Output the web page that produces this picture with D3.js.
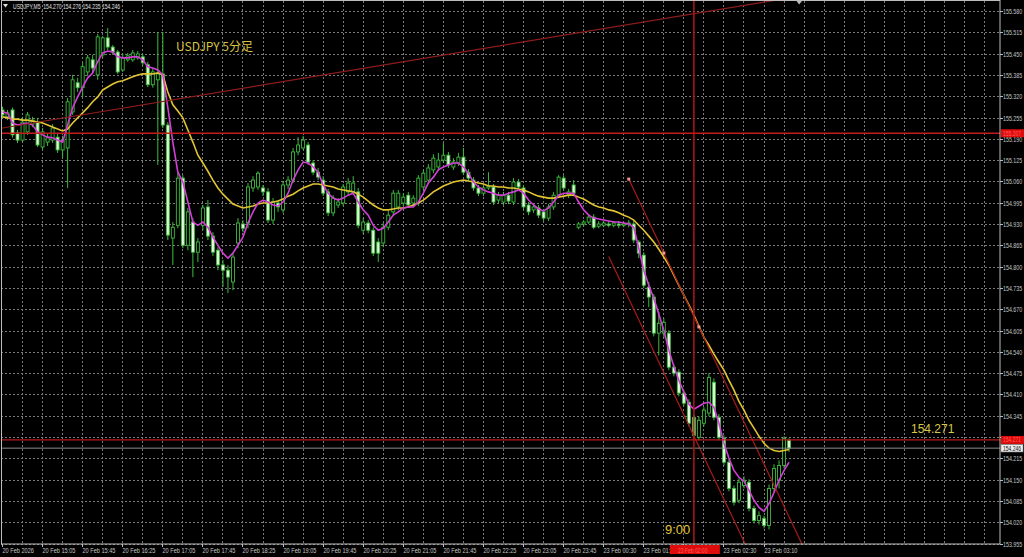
<!DOCTYPE html>
<html><head><meta charset="utf-8">
<script src="https://cdn.jsdelivr.net/npm/d3@7"></script>
<style>html,body{margin:0;padding:0;background:#000;overflow:hidden}</style>
</head><body>
<svg id="c" width="1024" height="557"></svg>
<script>
// ---------- DATA ----------
const symbolInfo = "USDJPY,M5  154.270 154.276 154.235 154.246";
const chartTitle = "USDJPY 5分足";
const timeTickBars = [0,8,16,24,32,40,48,56,64,72,80,88,96,104,112,120,128,136,144,152];
const timeTickLabels = ["20 Feb 2026","20 Feb 15:05","20 Feb 15:45","20 Feb 16:25","20 Feb 17:05","20 Feb 17:45","20 Feb 18:25","20 Feb 19:05","20 Feb 19:45","20 Feb 20:25","20 Feb 21:05","20 Feb 21:45","20 Feb 22:25","20 Feb 23:05","20 Feb 23:45","23 Feb 00:30","23 Feb 01:10","23 Feb 01:50","23 Feb 02:30","23 Feb 03:10"];
const priceTicks = [155.580,155.515,155.450,155.385,155.320,155.255,155.190,155.125,155.060,154.995,154.930,154.865,154.800,154.735,154.670,154.605,154.540,154.475,154.410,154.345,154.280,154.215,154.150,154.085,154.020,153.955];

const opens = [
155.278,155.257,155.278,155.208,155.186,155.211,155.235,155.241,155.165,155.180,
155.186,155.195,155.156,155.162,155.272,155.361,155.346,155.394,155.431,155.385,
155.446,155.498,155.470,155.455,155.400,155.431,155.431,155.437,155.440,155.416,
155.355,155.370,155.388,155.232,154.887,154.926,155.070,154.865,154.936,154.844,
154.926,154.982,154.893,154.850,154.805,154.789,154.753,154.872,154.930,154.933,
155.040,155.043,155.040,155.028,154.942,154.994,154.973,155.049,155.064,155.150,
155.162,155.171,155.116,155.088,155.064,155.028,154.964,154.988,154.994,155.028,
155.028,155.028,154.911,154.933,154.911,154.875,154.872,154.920,154.967,154.982,
154.994,155.018,154.994,154.994,155.043,155.064,155.095,155.104,155.125,155.140,
155.104,155.116,155.134,155.088,155.064,155.040,155.024,155.040,155.043,155.003,
154.997,155.018,154.997,155.058,155.040,154.988,154.973,154.979,154.967,154.948,
154.982,155.018,155.070,155.018,155.049,154.920,154.930,154.936,154.951,154.923,
154.926,154.930,154.926,154.930,154.926,154.930,154.930,154.875,154.835,154.737,
154.707,154.597,154.597,154.597,154.493,154.478,154.414,154.386,154.340,154.279,
154.322,154.353,154.447,154.340,154.276,154.203,154.123,154.087,154.132,154.142,
154.062,154.025,154.031,154.010,154.123,154.148,154.193,154.270];
const highs = [
155.288,155.278,155.285,155.217,155.257,155.272,155.257,155.254,155.223,155.205,
155.235,155.208,155.199,155.315,155.385,155.376,155.422,155.446,155.446,155.510,
155.504,155.528,155.476,155.461,155.449,155.452,155.461,155.458,155.449,155.425,
155.406,155.516,155.516,155.241,154.936,155.088,155.079,154.979,154.948,154.887,
154.988,155.003,154.905,154.859,154.820,154.805,154.841,154.948,154.942,155.055,
155.076,155.091,155.049,155.040,155.009,155.003,155.061,155.076,155.162,155.195,
155.199,155.180,155.125,155.101,155.076,155.037,155.018,155.009,155.052,155.070,
155.076,155.040,154.948,154.942,154.920,154.887,154.933,154.970,155.034,155.034,
155.024,155.028,155.018,155.079,155.095,155.113,155.143,155.147,155.177,155.150,
155.131,155.147,155.162,155.098,155.073,155.049,155.049,155.088,155.052,155.028,
155.028,155.028,155.070,155.067,155.049,154.997,154.991,154.988,154.976,154.991,
155.028,155.079,155.079,155.037,155.064,154.936,154.942,154.960,154.960,154.939,
154.939,154.939,154.939,154.939,154.936,154.942,154.942,154.881,154.844,154.753,
154.716,154.661,154.642,154.606,154.502,154.487,154.423,154.395,154.350,154.343,
154.371,154.475,154.459,154.350,154.285,154.212,154.132,154.154,154.160,154.151,
154.071,154.053,154.040,154.135,154.197,154.209,154.282,154.276];
const lows = [
155.254,155.247,155.193,155.177,155.180,155.202,155.226,155.165,155.156,155.168,
155.177,155.147,155.131,155.040,155.263,155.333,155.318,155.382,155.391,155.370,
155.437,155.461,155.446,155.388,155.394,155.425,155.425,155.431,155.413,155.348,
155.346,155.110,155.223,154.881,154.805,154.917,154.856,154.850,154.768,154.814,
154.911,154.881,154.832,154.789,154.738,154.719,154.728,154.856,154.905,154.917,
155.028,155.034,155.015,154.933,154.930,154.967,154.964,155.037,155.055,155.140,
155.156,155.110,155.079,155.064,155.015,154.954,154.954,154.979,154.985,155.018,
155.018,154.917,154.899,154.902,154.832,154.814,154.859,154.911,154.957,154.973,
154.985,154.979,154.985,154.985,155.034,155.055,155.085,155.095,155.116,155.101,
155.095,155.107,155.079,155.061,155.031,155.015,155.015,155.034,154.988,154.994,
154.988,154.991,154.988,155.034,154.973,154.957,154.964,154.948,154.939,154.939,
154.973,155.009,155.031,155.009,155.015,154.914,154.923,154.930,154.914,154.917,
154.920,154.920,154.920,154.917,154.920,154.920,154.872,154.826,154.734,154.676,
154.587,154.529,154.581,154.484,154.465,154.404,154.374,154.313,154.276,154.270,
154.313,154.343,154.331,154.270,154.193,154.114,154.071,154.078,154.123,154.053,
154.016,154.013,154.001,153.998,154.114,154.123,154.184,154.235];
const closes = [
155.263,155.269,155.202,155.186,155.241,155.263,155.247,155.171,155.211,155.193,
155.223,155.156,155.186,155.303,155.370,155.346,155.410,155.437,155.406,155.501,
155.498,155.470,155.455,155.394,155.437,155.443,155.452,155.449,155.422,155.355,
155.394,155.388,155.232,154.896,154.920,155.070,154.865,154.967,154.844,154.875,
154.979,154.893,154.844,154.805,154.789,154.768,154.829,154.933,154.917,155.043,
155.064,155.085,155.028,154.942,154.997,154.982,155.049,155.064,155.150,155.171,
155.186,155.119,155.088,155.073,155.024,154.964,155.009,154.997,155.043,155.055,
155.055,154.926,154.936,154.911,154.841,154.841,154.920,154.957,155.024,155.024,
155.012,154.988,155.009,155.070,155.085,155.101,155.131,155.125,155.140,155.110,
155.119,155.134,155.088,155.070,155.040,155.024,155.040,155.046,154.997,155.018,
155.018,155.000,155.058,155.043,154.982,154.967,154.982,154.957,154.948,154.982,
155.018,155.073,155.040,155.028,155.024,154.930,154.936,154.951,154.920,154.930,
154.933,154.926,154.933,154.926,154.930,154.933,154.881,154.841,154.743,154.707,
154.597,154.627,154.630,154.493,154.475,154.414,154.383,154.322,154.285,154.331,
154.362,154.462,154.340,154.279,154.203,154.123,154.081,154.142,154.148,154.062,
154.025,154.040,154.010,154.123,154.184,154.193,154.276,154.246];
// fast moving average (magenta)
const maFast = [
155.272,155.269,155.238,155.232,155.235,155.238,155.232,155.211,155.202,155.195,
155.193,155.186,155.180,155.232,155.285,155.318,155.348,155.376,155.391,155.425,
155.452,155.458,155.455,155.440,155.437,155.437,155.440,155.440,155.431,155.410,
155.406,155.400,155.385,155.285,155.180,155.088,155.058,154.997,154.936,154.926,
154.936,154.920,154.890,154.865,154.841,154.826,154.841,154.865,154.890,154.933,
154.967,154.994,155.003,154.997,154.988,154.985,154.997,155.024,155.064,155.095,
155.119,155.116,155.104,155.088,155.049,155.024,155.009,155.003,155.009,155.018,
155.024,154.997,154.973,154.957,154.926,154.911,154.917,154.936,154.957,154.967,
154.979,154.982,154.982,154.997,155.024,155.055,155.073,155.095,155.104,155.110,
155.116,155.116,155.104,155.085,155.058,155.043,155.034,155.028,155.024,155.018,
155.018,155.024,155.028,155.034,155.024,155.003,154.988,154.976,154.970,154.979,
154.997,155.018,155.024,155.024,155.024,154.997,154.973,154.957,154.948,154.945,
154.942,154.939,154.936,154.936,154.933,154.930,154.920,154.856,154.789,154.743,
154.703,154.655,154.606,154.545,154.496,154.453,154.417,154.380,154.365,154.374,
154.383,154.386,154.371,154.322,154.261,154.215,154.178,154.157,154.145,154.117,
154.087,154.065,154.053,154.077,154.111,154.148,154.178,154.203];
// slow moving average (yellow)
const maSlow = [
155.257,155.254,155.250,155.250,155.247,155.247,155.244,155.241,155.238,155.232,
155.226,155.220,155.214,155.220,155.238,155.254,155.269,155.285,155.303,155.318,
155.339,155.348,155.357,155.364,155.367,155.373,155.379,155.385,155.388,155.388,
155.388,155.391,155.385,155.333,155.294,155.275,155.254,155.217,155.180,155.140,
155.116,155.091,155.064,155.040,155.021,155.006,154.991,154.985,154.979,154.982,
154.985,154.991,154.994,154.994,154.997,155.000,155.006,155.015,155.021,155.031,
155.040,155.046,155.052,155.052,155.049,155.046,155.043,155.037,155.034,155.031,
155.028,155.021,155.012,155.000,154.988,154.979,154.973,154.973,154.976,154.979,
154.979,154.982,154.988,154.994,155.003,155.015,155.028,155.037,155.046,155.052,
155.058,155.061,155.064,155.061,155.058,155.055,155.052,155.046,155.046,155.043,
155.043,155.040,155.040,155.037,155.034,155.028,155.021,155.015,155.012,155.009,
155.009,155.012,155.015,155.018,155.018,155.012,155.006,154.997,154.988,154.982,
154.979,154.973,154.970,154.964,154.957,154.951,154.942,154.926,154.911,154.893,
154.875,154.853,154.829,154.805,154.774,154.743,154.713,154.683,154.652,154.618,
154.584,154.560,154.533,154.508,154.484,154.453,154.423,154.389,154.362,154.331,
154.307,154.282,154.261,154.246,154.239,154.236,154.239,154.242];

// drawn objects (data coordinates: bar index, price)
const hLinePrices = [155.207, 154.271];
const hLineLabels = ["155.207", "154.271"];
const bidPrice = 154.246;
const vLineBar = 138;
const vLineLabel = "23 Feb 02:00";
const trendBars = [0, 150];
const trendPrices = [155.223, 155.602];
const chanUpperBars = [125, 139];
const chanUpperPrices = [155.067, 154.616];
const chanLowerBars = [121, 135];
const chanLowerPrices = [154.831, 154.380];
const noteLevel = "154.271";
const noteTime = "9:00";

// ---------- DRAW ----------
const W = 1024, H = 557;
const P = {l: 1, r: 1000, t: 1, b: 544};
const svg = d3.select("#c");
svg.append("rect").attr("width", W).attr("height", H).attr("fill", "#000");

const x = d3.scaleLinear().domain([0, 1]).range([2.5, 7.51]);
const y = d3.scaleLinear().domain([153.955, 155.580]).range([543.5, 11]);

const defs = svg.append("defs");
defs.append("clipPath").attr("id", "plot").append("rect")
  .attr("x", P.l).attr("y", P.t).attr("width", P.r - P.l).attr("height", P.b - P.t);

const grid = svg.append("g").attr("stroke", "#7a7a7a").attr("stroke-width", 1).attr("stroke-dasharray", "2,2");
priceTicks.forEach(p => {
  const yy = Math.round(y(p)) + 0.5;
  grid.append("line").attr("x1", P.l).attr("x2", P.r).attr("y1", yy).attr("y2", yy);
});
const vGridBars = d3.range(4, 200, 4).filter(b => x(b) < P.r - 4);
vGridBars.forEach(b => {
  const xx = Math.round(x(b) - 0.5) + 0.5;
  grid.append("line").attr("x1", xx).attr("x2", xx).attr("y1", P.t).attr("y2", P.b);
});

const plot = svg.append("g").attr("clip-path", "url(#plot)");

// candles
const green = "#3dbb3d";
const cg = plot.append("g");
closes.forEach((c, i) => {
  const o = opens[i], hi = highs[i], lo = lows[i];
  const cx = x(i);
  cg.append("line").attr("x1", cx).attr("x2", cx).attr("y1", y(hi)).attr("y2", y(lo))
    .attr("stroke", green).attr("stroke-width", 1);
  const top = y(Math.max(o, c)), bot = y(Math.min(o, c));
  cg.append("rect").attr("x", cx - 1.5).attr("width", 3)
    .attr("y", top).attr("height", Math.max(bot - top, 0.8))
    .attr("fill", c >= o ? "#000" : "#e4f6dc")
    .attr("stroke", green).attr("stroke-width", 0.9);
});

// moving averages
const lineGen = d3.line().x((d, i) => x(i)).y(d => y(d));
plot.append("path").datum(maSlow).attr("d", lineGen).attr("fill", "none")
  .attr("stroke", "#e2c433").attr("stroke-width", 1.6);
plot.append("path").datum(maFast).attr("d", lineGen).attr("fill", "none")
  .attr("stroke", "#d23fd6").attr("stroke-width", 1.6);

// objects
function ray(bars, prices, extendLeft) {
  const x1 = x(bars[0]), y1 = y(prices[0]), x2 = x(bars[1]), y2 = y(prices[1]);
  const k = (y2 - y1) / (x2 - x1);
  const xs = extendLeft ? -200 : x1, xe = 1200;
  return [[xs, y1 + k * (xs - x1)], [xe, y1 + k * (xe - x1)]];
}
function drawSeg(seg, color, w) {
  plot.append("line").attr("x1", seg[0][0]).attr("y1", seg[0][1])
    .attr("x2", seg[1][0]).attr("y2", seg[1][1])
    .attr("stroke", color).attr("stroke-width", w);
}
drawSeg(ray(trendBars, trendPrices, true), "#8e1c1c", 1.2);
drawSeg(ray(chanUpperBars, chanUpperPrices, false), "#a81a1a", 1.2);
drawSeg(ray(chanLowerBars, chanLowerPrices, false), "#a81a1a", 1.2);
// handles of the selected upper line
const handleBars = [chanUpperBars[0], (chanUpperBars[0] + chanUpperBars[1]) / 2, chanUpperBars[1]];
const handlePrices = [chanUpperPrices[0], (chanUpperPrices[0] + chanUpperPrices[1]) / 2, chanUpperPrices[1]];
handleBars.forEach((b, i) => {
  plot.append("rect").attr("x", x(b) - 1.5).attr("y", y(handlePrices[i]) - 1.5)
    .attr("width", 3).attr("height", 3).attr("fill", "#f59a8a");
});

// horizontal lines
plot.append("line").attr("x1", P.l).attr("x2", P.r).attr("y1", y(bidPrice)).attr("y2", y(bidPrice))
  .attr("stroke", "#8c8c8c").attr("stroke-width", 1);
hLinePrices.forEach((p, i) => {
  plot.append("line").attr("x1", P.l).attr("x2", P.r).attr("y1", y(p)).attr("y2", y(p))
    .attr("stroke", i === 0 ? "#c41c1c" : "#b81a1a").attr("stroke-width", i === 0 ? 1.6 : 1.2);
});
// vertical line
plot.append("line").attr("x1", x(vLineBar)).attr("x2", x(vLineBar)).attr("y1", P.t).attr("y2", P.b)
  .attr("stroke", "#b01616").attr("stroke-width", 1.5);

// frame
svg.append("rect").attr("x", P.l + 0.5).attr("y", P.t - 0.5).attr("width", P.r - P.l - 0.5).attr("height", P.b - P.t + 0.5)
  .attr("fill", "none").attr("stroke", "#bdbdbd").attr("stroke-width", 1);

// small condensed text helper (horizontally squeezed like the terminal font)
const axisFont = "Liberation Sans, Arial, sans-serif";
function smallText(g, tx, ty, str, size, sx, fill) {
  return g.append("text").attr("transform", `translate(${tx},${ty}) scale(${sx},1)`)
    .text(str).attr("font-family", axisFont).attr("font-size", size).attr("fill", fill)
    .style("white-space", "pre");
}

// price axis
const pa = svg.append("g");
const boxCenters = hLinePrices.map(p => y(p)).concat([y(bidPrice)]);
priceTicks.forEach(p => {
  const yy = Math.round(y(p)) + 0.5;
  pa.append("line").attr("x1", P.r).attr("x2", P.r + 3).attr("y1", yy).attr("y2", yy).attr("stroke", "#bdbdbd");
  // labels hidden under a price box are not shown
  if (boxCenters.some(c => Math.abs(c - yy) < 5)) return;
  smallText(pa, P.r + 3, yy + 2.5, p.toFixed(3), 7, 0.76, "#c6c6c6");
});
// price boxes
hLinePrices.forEach((p, i) => {
  const yy = y(p);
  pa.append("rect").attr("x", P.r + 1).attr("y", yy - 4).attr("width", W - P.r - 1).attr("height", 8).attr("fill", "#e00b0b");
  smallText(pa, P.r + 3, yy + 2.5, hLineLabels[i], 6.6, 0.76, "#ff5c5c");
});
pa.append("rect").attr("x", P.r + 1).attr("y", y(bidPrice) - 3.6).attr("width", W - P.r - 2).attr("height", 7.4)
  .attr("fill", "#eeeeee").attr("stroke", "#9a9a9a").attr("stroke-width", 0.6);
smallText(pa, P.r + 3, y(bidPrice) + 2.4, bidPrice.toFixed(3), 6.6, 0.76, "#111");

// time axis
const ta = svg.append("g");
const vx = x(vLineBar);
const boxL = vx - 24, boxR = vx + 26;
defs.append("clipPath").attr("id", "tclip").append("rect")
  .attr("x", 0).attr("y", P.b).attr("width", boxL).attr("height", H - P.b);
const tLabels = ta.append("g").attr("clip-path", "url(#tclip)");
timeTickBars.forEach((b, i) => {
  const xx = Math.round(x(b) - 0.5) + 0.5;
  ta.append("line").attr("x1", xx).attr("x2", xx).attr("y1", P.b).attr("y2", P.b + 3).attr("stroke", "#bdbdbd");
  const lbl = timeTickLabels[i];
  // a label lying under the time box is hidden by it, as in the reference
  if (xx >= boxL - 2 && xx < boxR) return;
  const g = xx < boxL ? tLabels : ta;
  smallText(g, xx, 552.5, lbl, 7, 0.8, "#c6c6c6");
});
ta.append("rect").attr("x", boxL).attr("y", P.b + 1).attr("width", boxR - boxL).attr("height", 9).attr("fill", "#e00b0b");
smallText(ta, boxL + 8, 552.5, vLineLabel, 6.6, 0.76, "#ff5c5c");

// header
svg.append("path").attr("d", "M3,4 L8,4 L5.5,7.5 Z").attr("fill", "#e0e0e0");
smallText(svg, 13, 8.6, symbolInfo, 7, 0.72, "#e2e2e2");
svg.append("path").attr("d", "M796.5,1 L802,1 L799.2,4.5 Z").attr("fill", "#b8b8b8");

// annotations
svg.append("text").attr("x", 176).attr("y", 51).text(chartTitle)
  .attr("font-family", "Noto Sans CJK JP, sans-serif").attr("font-size", 12).attr("fill", "#d8c440");
svg.append("text").attr("x", 911).attr("y", 433).text(noteLevel)
  .attr("font-family", axisFont).attr("font-size", 12).attr("fill", "#d8c848");
svg.append("text").attr("x", 665).attr("y", 534).text(noteTime)
  .attr("font-family", axisFont).attr("font-size", 13).attr("fill", "#e0c440");
</script>
</body></html>
